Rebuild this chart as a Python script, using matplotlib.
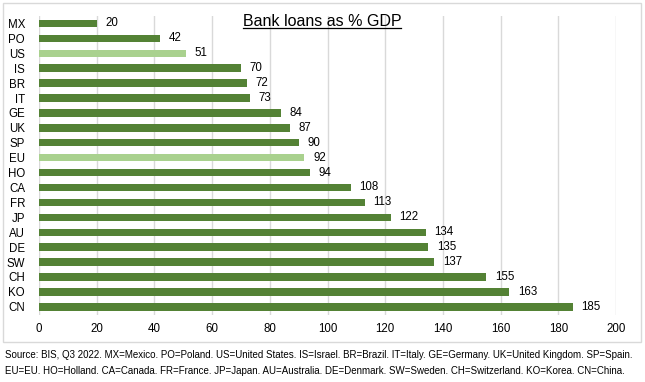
import matplotlib.pyplot as plt
from matplotlib.patches import Rectangle
from matplotlib.lines import Line2D

plt.rcParams['font.family'] = ['Liberation Sans', 'DejaVu Sans']

countries = ['MX', 'PO', 'US', 'IS', 'BR', 'IT', 'GE', 'UK', 'SP', 'EU',
             'HO', 'CA', 'FR', 'JP', 'AU', 'DE', 'SW', 'CH', 'KO', 'CN']
loans = [20, 42, 51, 70, 72, 73, 84, 87, 90, 92,
         94, 108, 113, 122, 134, 135, 137, 155, 163, 185]
highlight = ['US', 'EU']
xticks = [0, 20, 40, 60, 80, 100, 120, 140, 160, 180, 200]

dark = '#548235'
light = '#A9D18E'
colors = [light if c in highlight else dark for c in countries]

fig = plt.figure(figsize=(6.45, 3.82), dpi=100)
fig.patches.append(Rectangle((3 / 645, 1 - 342 / 382), 638 / 645, 339 / 382,
                             transform=fig.transFigure, fill=False,
                             edgecolor='#d9d9d9', lw=1))
ax = fig.add_axes([39 / 645, 1 - 315 / 382, 577 / 645, 299 / 382])

ypos = list(range(len(countries)))
ax.barh(ypos, loans, height=0.5, color=colors, zorder=3)
for y, v in zip(ypos, loans):
    ax.text(v + 3, y, str(v), va='center', ha='left', fontsize=8.3, color='#000000')

ax.set_yticks(ypos)
ax.set_yticklabels(countries, fontsize=8.3)
ax.set_ylim(len(countries) - 0.45, -0.5)
ax.set_xlim(0, 200)
ax.set_xticks(xticks)
ax.set_xticklabels([str(t) for t in xticks], fontsize=8.3)
ax.grid(axis='x', color='#d9d9d9', lw=1, zorder=0)
ax.tick_params(length=0, pad=6)
ax.tick_params(axis='y', pad=10)
for s in ax.spines.values():
    s.set_visible(False)

title = fig.text(322 / 645, 1 - 22 / 382, 'Bank loans as % GDP', ha='center',
                 va='center', fontsize=11.5)
fig.canvas.draw()
bb = title.get_window_extent().transformed(fig.transFigure.inverted())
fig.lines.append(Line2D([bb.x0, bb.x1], [bb.y0 + 0.004, bb.y0 + 0.004],
                        transform=fig.transFigure, color='black', lw=0.9))

fig.text(5 / 645, 1 - 355 / 382,
         'Source: BIS, Q3 2022. MX=Mexico. PO=Poland. US=United States. IS=Israel. BR=Brazil. '
         'IT=Italy. GE=Germany. UK=United Kingdom. SP=Spain.',
         ha='left', va='center', fontsize=7.05)
fig.text(5 / 645, 1 - 371 / 382,
         'EU=EU. HO=Holland. CA=Canada. FR=France. JP=Japan. AU=Australia. DE=Denmark. '
         'SW=Sweden. CH=Switzerland. KO=Korea. CN=China.',
         ha='left', va='center', fontsize=7.05)

fig.savefig('out.png', dpi=100)
